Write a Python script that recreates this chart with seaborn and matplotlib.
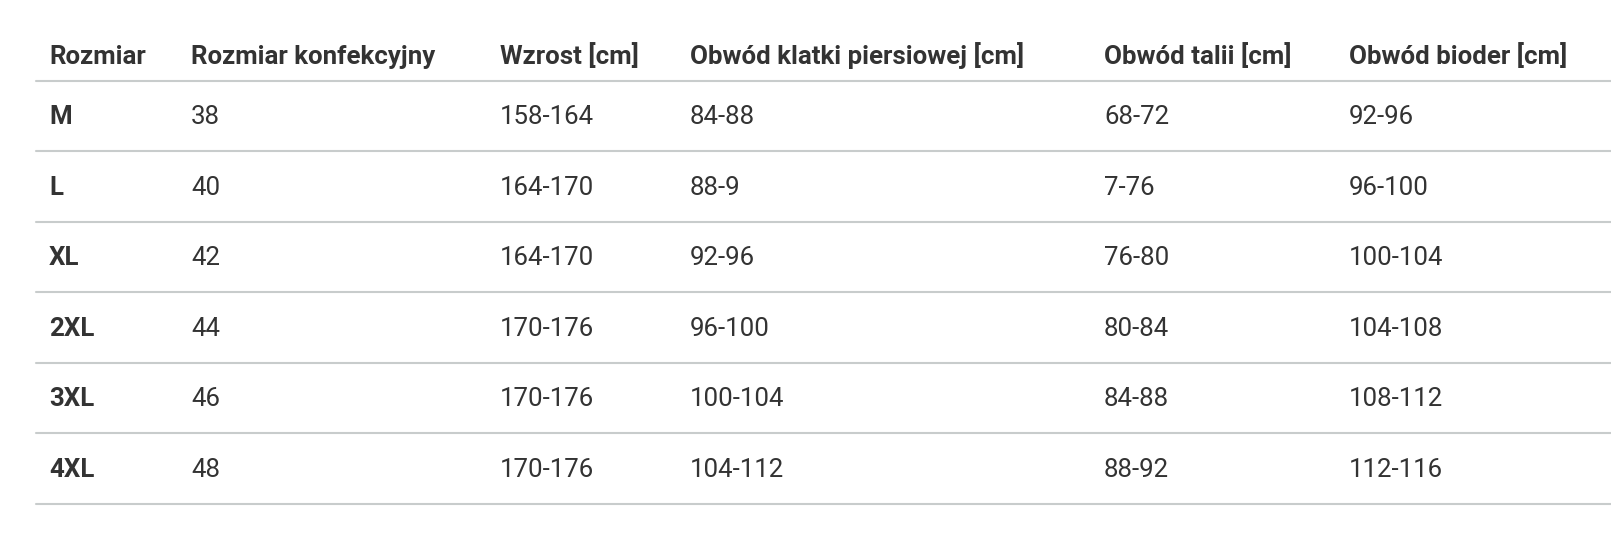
import matplotlib
matplotlib.use("Agg")
import matplotlib.pyplot as plt
import seaborn as sns

headers = ["Rozmiar", "Rozmiar konfekcyjny", "Wzrost [cm]",
           "Obwód klatki piersiowej [cm]", "Obwód talii [cm]", "Obwód bioder [cm]"]
sizes = ["M", "L", "XL", "2XL", "3XL", "4XL"]
konfekcyjny = ["38", "40", "42", "44", "46", "48"]
wzrost = ["158-164", "164-170", "164-170", "170-176", "170-176", "170-176"]
klatka = ["84-88", "88-9", "92-96", "96-100", "100-104", "104-112"]
talia = ["68-72", "7-76", "76-80", "80-84", "84-88", "88-92"]
biodra = ["92-96", "96-100", "100-104", "104-108", "108-112", "112-116"]

sns.set_theme(style="white")
plt.rcParams['font.family'] = ['Roboto', 'DejaVu Sans']

W, H = 1611, 545
fig = plt.figure(figsize=(W / 100, H / 100), dpi=100)
ax = fig.add_axes([0, 0, 1, 1])
ax.set_xlim(0, W)
ax.set_ylim(H, 0)
ax.axis("off")

col_x = [49, 191, 500, 690, 1104, 1349]
header_base = 64.3
first_row_base = 124.3
row_step = 70.55
line_top = 80.7
text_color = "#333333"
line_color = "#c8cccc"
fs = 18.6

for x, h in zip(col_x, headers):
    ax.text(x, header_base, h, fontsize=fs, fontweight="bold", color=text_color,
            ha="left", va="baseline")

columns = [sizes, konfekcyjny, wzrost, klatka, talia, biodra]
for i in range(len(sizes)):
    y = first_row_base + i * row_step
    for j, (x, col) in enumerate(zip(col_x, columns)):
        ax.text(x, y, col[i], fontsize=fs, fontweight="bold" if j == 0 else "normal",
                color=text_color, ha="left", va="baseline")

for k in range(len(sizes) + 1):
    y = line_top + k * row_step
    sns.lineplot(x=[36, W], y=[y, y], ax=ax, color=line_color, linewidth=1.5)

fig.savefig("out.png", dpi=100)
